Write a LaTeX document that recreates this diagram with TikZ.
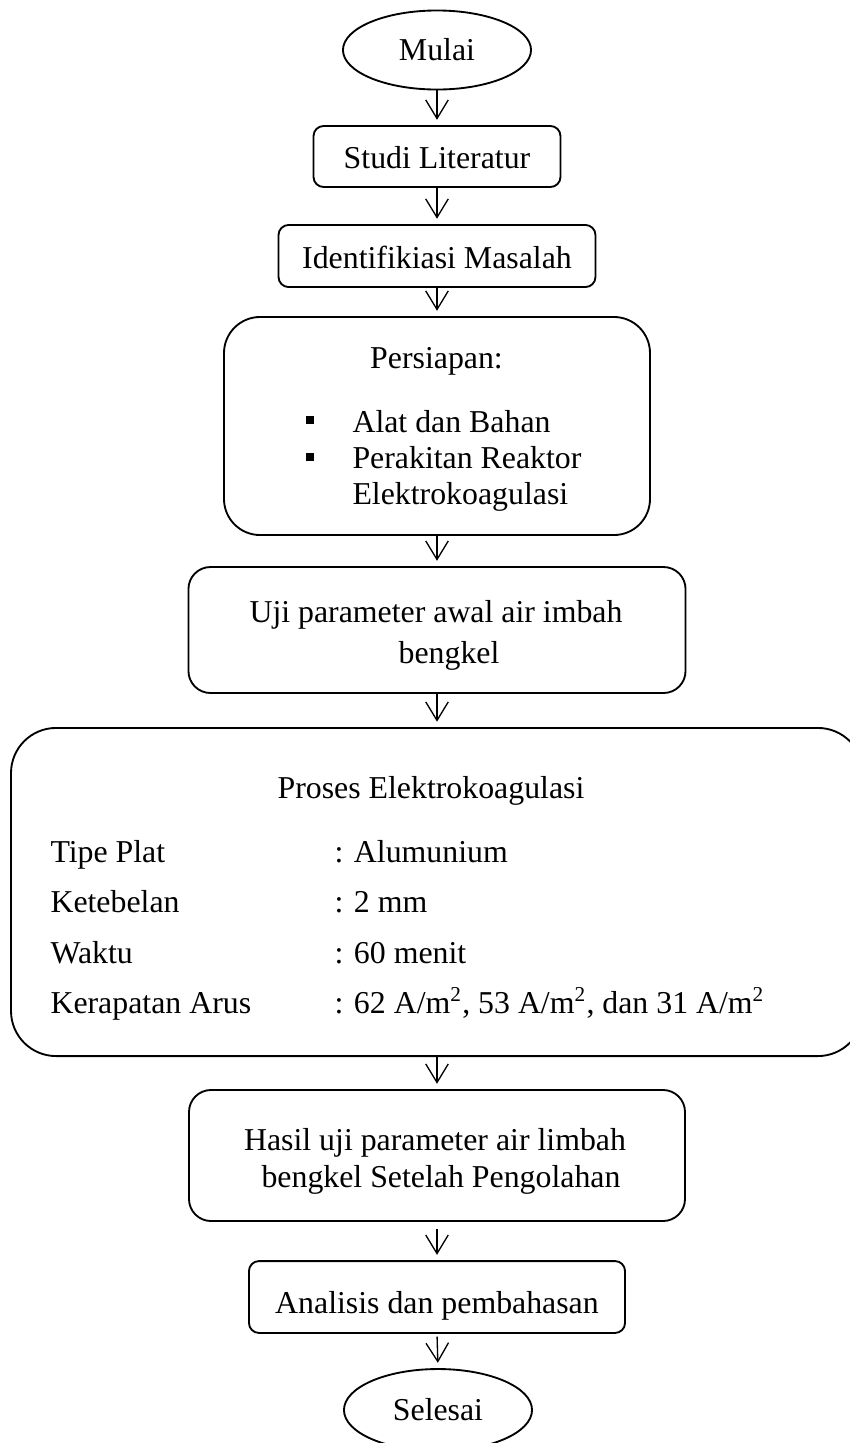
\documentclass[tikz,border=0pt]{standalone}
\usepackage{fontspec}
\setmainfont{Liberation Serif}
\usetikzlibrary{shapes.geometric,arrows.meta}
\begin{document}
\begin{tikzpicture}[x=0.377pt,y=-0.377pt,
  every node/.style={font=\fontsize{12pt}{14pt}\selectfont},
  box/.style={draw,line width=0.7pt,inner sep=0pt,rectangle},
  term/.style={draw,line width=0.7pt,ellipse,inner sep=0pt,minimum width=70.9pt},
  txt/.style={inner sep=0pt,anchor=base},
  ltxt/.style={inner sep=0pt,anchor=base west},
  arr/.style={-{Straight Barb[length=7pt,width=8.5pt]},line width=0.5pt,shorten >=2pt},
  sq/.style={fill=black,inner sep=0pt,minimum size=3.3pt}]
\clip (0,0) rectangle (850,1443);
% terminals
\node[term,minimum height=29.8pt] (mulai) at (437,50) {Mulai};
\node[term,minimum height=30.9pt] (selesai) at (438,1410) {Selesai};
% boxes
\node[box,rounded corners=3.8pt,minimum width=93.1pt,minimum height=23pt] (studi) at (437,156.5) {};
\node[txt] (studiT) at (437,168) {Studi Literatur};
\node[box,rounded corners=3.8pt,minimum width=119.5pt,minimum height=23.4pt] (ident) at (437,256) {};
\node[txt] (identT) at (437,268) {Identifikiasi Masalah};
\node[box,rounded corners=13.6pt,minimum width=160.6pt,minimum height=82.2pt] (pers) at (437,426) {};
\node[txt] (persT) at (436.5,368) {Persiapan:};
\node[sq] (b1) at (310,420) {};
\node[sq] (b2) at (310,457) {};
\node[ltxt] (p1) at (352,432) {Alat dan Bahan};
\node[ltxt] (p2) at (352,468) {Perakitan Reaktor};
\node[ltxt] (p3) at (352,504) {Elektrokoagulasi};
\node[box,rounded corners=8.3pt,minimum width=187.4pt,minimum height=47.5pt] (uji) at (437,630) {};
\node[txt] (uji1) at (436,622) {Uji parameter awal air imbah};
\node[txt] (uji2) at (449,663) {bengkel};
\node[box,rounded corners=17pt,minimum width=321.2pt,minimum height=123.7pt] (proses) at (437,892) {};
\node[txt] (prosesT) at (431,798) {Proses Elektrokoagulasi};
\node[ltxt] (l1) at (50,862) {Tipe Plat};
\node[ltxt] (l2) at (50,912) {Ketebelan};
\node[ltxt] (l3) at (50,963) {Waktu};
\node[ltxt] (l4) at (50,1013) {Kerapatan Arus};
\node[ltxt] (v1) at (334,862) {: Alumunium};
\node[ltxt] (v2) at (334,912) {: 2 mm};
\node[ltxt] (v3) at (334,963) {: 60 menit};
\node[ltxt] (v4) at (334,1013) {: 62 A/m\textsuperscript{2}, 53 A/m\textsuperscript{2}, dan 31 A/m\textsuperscript{2}};
\node[box,rounded corners=8.3pt,minimum width=187pt,minimum height=49.4pt] (hasil) at (437,1155.5) {};
\node[txt] (hasil1) at (435,1150) {Hasil uji parameter air limbah};
\node[txt] (hasil2) at (441,1187) {bengkel Setelah Pengolahan};
\node[box,rounded corners=3.8pt,minimum width=141.8pt,minimum height=27.1pt] (anal) at (437,1297) {};
\node[txt] (analT) at (437,1313) {Analisis dan pembahasan};
% arrows
\draw[arr] (mulai.south) -- (studi.north);
\draw[arr] (studi.south) -- (ident.north);
\draw[arr] (ident.south) -- (pers.north);
\draw[arr] (pers.south) -- (uji.north);
\draw[arr] (uji.south) -- (proses.north);
\draw[arr] (proses.south) -- (hasil.north);
\draw[arr,shorten <=2.5pt] (hasil.south) -- (anal.north);
\draw[arr,shorten <=1pt] (anal.south) -- (selesai.north);
\end{tikzpicture}
\end{document}
